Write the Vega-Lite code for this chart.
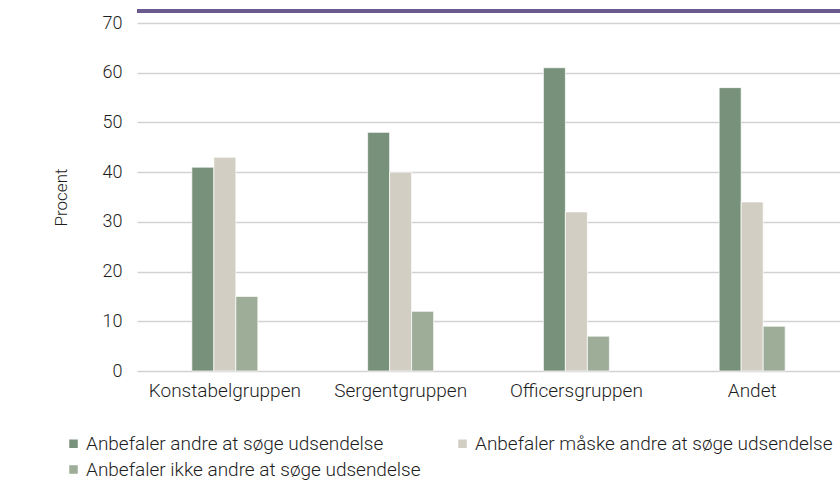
{
  "$schema": "https://vega.github.io/schema/vega-lite/v6.json",
  "width": 703,
  "height": 348,
  "autosize": {"type": "none"},
  "padding": {"left": 137, "top": 23, "right": 0, "bottom": 110},
  "background": "white",
  "config": {
    "view": {"stroke": null},
    "font": "Roboto",
    "axis": {"labelFont": "Roboto", "titleFont": "Roboto", "labelColor": "#1e1e1e", "titleColor": "#1e1e1e", "labelFontWeight": 300, "titleFontWeight": 300},
    "legend": {"labelFont": "Roboto", "labelFontWeight": 300}
  },
  "data": {
    "values": [
      {"gruppe": "Konstabelgruppen", "svar": "Anbefaler andre at søge udsendelse", "pct": 41},
      {"gruppe": "Konstabelgruppen", "svar": "Anbefaler måske andre at søge udsendelse", "pct": 43},
      {"gruppe": "Konstabelgruppen", "svar": "Anbefaler ikke andre at søge udsendelse", "pct": 15},
      {"gruppe": "Sergentgruppen", "svar": "Anbefaler andre at søge udsendelse", "pct": 48},
      {"gruppe": "Sergentgruppen", "svar": "Anbefaler måske andre at søge udsendelse", "pct": 40},
      {"gruppe": "Sergentgruppen", "svar": "Anbefaler ikke andre at søge udsendelse", "pct": 12},
      {"gruppe": "Officersgruppen", "svar": "Anbefaler andre at søge udsendelse", "pct": 61},
      {"gruppe": "Officersgruppen", "svar": "Anbefaler måske andre at søge udsendelse", "pct": 32},
      {"gruppe": "Officersgruppen", "svar": "Anbefaler ikke andre at søge udsendelse", "pct": 7},
      {"gruppe": "Andet", "svar": "Anbefaler andre at søge udsendelse", "pct": 57},
      {"gruppe": "Andet", "svar": "Anbefaler måske andre at søge udsendelse", "pct": 34},
      {"gruppe": "Andet", "svar": "Anbefaler ikke andre at søge udsendelse", "pct": 9}
    ]
  },
  "layer": [
    {
      "mark": {"type": "bar", "stroke": "white", "strokeWidth": 0.7},
      "encoding": {
        "x": {
          "field": "gruppe", "type": "nominal",
          "sort": ["Konstabelgruppen", "Sergentgruppen", "Officersgruppen", "Andet"],
          "scale": {"paddingInner": 0.6245, "paddingOuter": 0.312},
          "axis": {"title": null, "labelAngle": 0, "labelFontSize": 19, "labelPadding": 10, "ticks": false, "domain": false}
        },
        "xOffset": {
          "field": "svar", "type": "nominal",
          "sort": ["Anbefaler andre at søge udsendelse", "Anbefaler måske andre at søge udsendelse", "Anbefaler ikke andre at søge udsendelse"]
        },
        "y": {
          "field": "pct", "type": "quantitative",
          "scale": {"domain": [0, 70]},
          "axis": {"title": "Procent", "titleFontSize": 17, "titlePadding": 32, "labelFontSize": 18, "labelPadding": 15, "ticks": false, "domain": false, "tickCount": 7, "gridColor": "#d2d2d2", "gridWidth": 1.3}
        },
        "color": {
          "field": "svar", "type": "nominal",
          "sort": ["Anbefaler andre at søge udsendelse", "Anbefaler måske andre at søge udsendelse", "Anbefaler ikke andre at søge udsendelse"],
          "scale": {
            "domain": ["Anbefaler andre at søge udsendelse", "Anbefaler måske andre at søge udsendelse", "Anbefaler ikke andre at søge udsendelse"],
            "range": ["#78917a", "#d2cec3", "#9dad98"]
          },
          "legend": {
            "title": null, "orient": "none", "legendX": -73, "legendY": 411,
            "direction": "horizontal", "columns": 2, "columnPadding": 32, "rowPadding": 6,
            "symbolType": "square", "symbolSize": 100, "symbolOffset": 0, "labelOffset": 3,
            "labelFontSize": 19, "labelColor": "#1e1e1e", "labelLimit": 500
          }
        }
      }
    },
    {
      "mark": {"type": "rule", "color": "#6b5a8e", "strokeWidth": 3, "clip": false},
      "encoding": {"y": {"datum": 72.4}}
    }
  ]
}
